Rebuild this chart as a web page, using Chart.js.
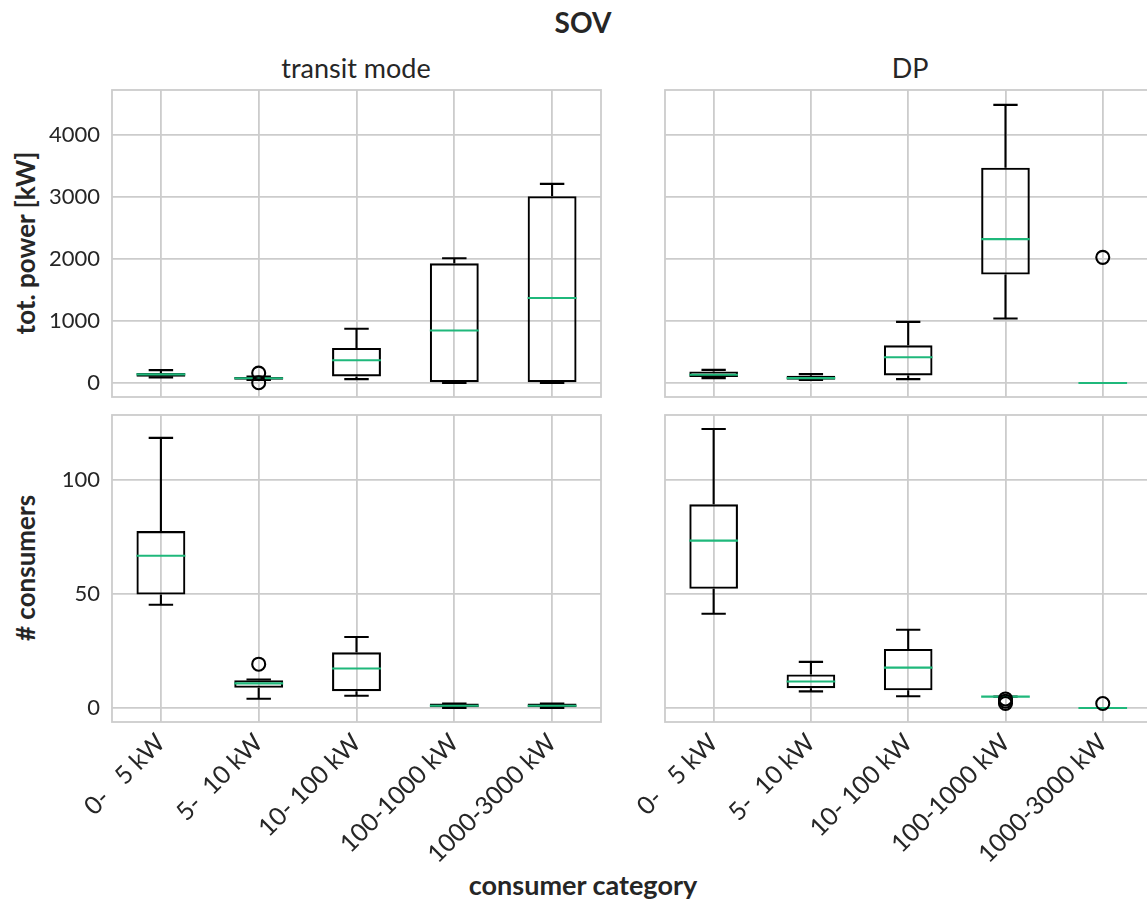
<!DOCTYPE html>
<html>
<head>
<meta charset="utf-8">
<script src="https://cdn.jsdelivr.net/npm/chart.js@4.4.0/dist/chart.umd.min.js"></script>
<style>
  html, body { margin: 0; padding: 0; background: #fff; overflow: hidden; width: 1147px; height: 901px; }
  .panel { position: absolute; }
  .txt { position: absolute; font-family: Lato, "Open Sans", sans-serif; color: #262626; white-space: pre; }
  .bold { font-weight: bold; }
</style>
</head>
<body>
<div class="txt bold" style="left:583px; top:22px; font-size:28px; transform:translate(-50%,-50%);">SOV</div>
<div class="txt" style="left:356px; top:67px; font-size:27px; transform:translate(-50%,-50%);">transit mode</div>
<div class="txt" style="left:910px; top:67px; font-size:27px; transform:translate(-50%,-50%);">DP</div>
<div class="txt bold" style="left:25px; top:243px; font-size:26px; transform:translate(-50%,-50%) rotate(-90deg);">tot. power [kW]</div>
<div class="txt bold" style="left:25px; top:568px; font-size:26px; transform:translate(-50%,-50%) rotate(-90deg);"># consumers</div>
<div class="txt bold" style="left:583px; top:884px; font-size:27px; transform:translate(-50%,-50%);">consumer category</div>

<div class="panel" style="left:0px; top:80px;"><canvas id="tl" width="615" height="330"></canvas></div>
<div class="panel" style="left:615px; top:80px;"><canvas id="tr" width="545" height="330"></canvas></div>
<div class="panel" style="left:0px; top:405px;"><canvas id="bl" width="615" height="496"></canvas></div>
<div class="panel" style="left:615px; top:405px;"><canvas id="br" width="545" height="496"></canvas></div>

<script>
// ---------- DATA ----------
const categories = ['0-   5 kW', '5-  10 kW', '10- 100 kW', '100-1000 kW', '1000-3000 kW'];

const powerTicks = [0, 1000, 2000, 3000, 4000];
const powerRange = [-225, 4725];
const consumerTicks = [0, 50, 100];
const consumerRange = [-6.1, 128.3];

// tot. power [kW], transit mode
const powTransitLo   = [91, 50, 64, 0, 0];
const powTransitQ1   = [101, 55, 107, 0, 0];
const powTransitMed  = [139, 78, 368, 848, 1371];
const powTransitQ3   = [160, 98, 565, 1931, 3013];
const powTransitHi   = [208, 105, 875, 2011, 3211];
const powTransitOut  = [[], [160, 5], [], [], []];

// tot. power [kW], DP
const powDPLo   = [80, 48, 64, 1040, 0];
const powDPQ1   = [96, 53, 123, 1749, 0];
const powDPMed  = [133, 80, 416, 2320, 0];
const powDPQ3   = [187, 117, 608, 3472, 0];
const powDPHi   = [213, 144, 987, 4485, 0];
const powDPOut  = [[], [], [], [], [2027]];

// # consumers, transit mode
const conTransitLo  = [45.2, 4.1, 5.4, 0, 0];
const conTransitQ1  = [49.7, 8.9, 7.4, 0, 0];
const conTransitMed = [66.7, 10.8, 17.3, 1, 1];
const conTransitQ3  = [77.5, 12.2, 24.4, 2, 2];
const conTransitHi  = [118.3, 12.5, 31.1, 2, 2];
const conTransitOut = [[], [19.2], [], [], []];

// # consumers, DP
const conDPLo  = [41.3, 7.3, 5.2, 5, 0];
const conDPQ1  = [52.2, 8.7, 7.8, 5, 0];
const conDPMed = [73.3, 11.6, 17.7, 5, 0];
const conDPQ3  = [89.2, 14.7, 25.9, 5, 0];
const conDPHi  = [122.2, 20.2, 34.3, 5, 0];
const conDPOut = [[], [], [], [4, 3, 2], [2]];

// ---------- STYLE ----------
const FONT = 'Lato, "Open Sans", sans-serif';
const TEXT = '#262626';
const GRID = '#cccccc';
const MEDIAN = '#1fb87b';
const LW = 2.1;
Chart.defaults.font.family = FONT;
Chart.defaults.color = TEXT;

const frame = {
  id: 'frame',
  beforeDatasetsDraw(chart) {
    const a = chart.chartArea, c = chart.ctx;
    c.save();
    c.strokeStyle = GRID; c.lineWidth = 1.8;
    c.strokeRect(a.left, a.top, a.right - a.left, a.bottom - a.top);
    c.restore();
  }
};

const boxParts = {
  id: 'boxParts',
  afterDatasetDraw(chart, args, opts) {
    if (args.index !== 0) return;
    const c = chart.ctx, x = chart.scales.x, y = chart.scales.y;
    const meta = chart.getDatasetMeta(0);
    c.save();
    c.beginPath();
    const a = chart.chartArea;
    c.rect(a.left, a.top, a.right - a.left, a.bottom - a.top);
    c.clip();
    c.lineCap = 'butt';
    opts.med.forEach((m, i) => {
      const cx = x.getPixelForValue(i);
      const hw = meta.data[i].width / 2;
      const yLo = y.getPixelForValue(opts.lo[i]);
      const yQ1 = y.getPixelForValue(opts.q1[i]);
      const yQ3 = y.getPixelForValue(opts.q3[i]);
      const yHi = y.getPixelForValue(opts.hi[i]);
      c.strokeStyle = '#000'; c.lineWidth = LW;
      c.beginPath();
      c.moveTo(cx, yQ1); c.lineTo(cx, yLo);
      c.moveTo(cx, yQ3); c.lineTo(cx, yHi);
      c.moveTo(cx - hw / 2, yLo); c.lineTo(cx + hw / 2, yLo);
      c.moveTo(cx - hw / 2, yHi); c.lineTo(cx + hw / 2, yHi);
      c.stroke();
      const yM = y.getPixelForValue(m);
      c.strokeStyle = MEDIAN; c.lineWidth = LW;
      c.beginPath();
      c.moveTo(cx - hw, yM); c.lineTo(cx + hw, yM);
      c.stroke();
    });
    c.restore();
  }
};

function makeChart(id, s) {
  const outPts = [];
  s.out.forEach((arr, i) => arr.forEach(v => outPts.push({ x: categories[i], y: v })));
  const yAxisW = s.left ? 112 : 50;
  return new Chart(document.getElementById(id), {
    data: {
      labels: categories,
      datasets: [
        {
          type: 'bar',
          data: s.q1.map((v, i) => [v, s.q3[i]]),
          backgroundColor: 'rgba(0,0,0,0)',
          borderColor: '#000',
          borderWidth: LW,
          borderSkipped: false,
          barPercentage: 0.5,
          categoryPercentage: 1.0,
          order: 2
        },
        {
          type: 'line',
          data: outPts,
          showLine: false,
          pointStyle: 'circle',
          pointRadius: 6.5,
          pointBorderWidth: LW,
          pointBorderColor: '#000',
          pointBackgroundColor: 'rgba(0,0,0,0)',
          order: 1
        }
      ]
    },
    options: {
      responsive: false,
      animation: false,
      layout: { padding: { top: 10, right: s.right, left: 0, bottom: 0 } },
      plugins: {
        legend: { display: false },
        tooltip: { enabled: false },
        boxParts: { lo: s.lo, q1: s.q1, q3: s.q3, hi: s.hi, med: s.med }
      },
      scales: {
        x: {
          type: 'category',
          offset: true,
          grid: { offset: false, color: GRID, lineWidth: 1.8, drawTicks: false },
          border: { display: false },
          ticks: {
            display: s.bottom,
            autoSkip: false,
            maxRotation: 45, minRotation: 45,
            padding: 6,
            color: TEXT,
            font: { size: 25 }
          },
          afterFit(sc) { sc.height = s.xH; sc.paddingLeft = 0; sc.paddingRight = 0; }
        },
        y: {
          type: 'linear',
          min: s.range[0], max: s.range[1],
          afterBuildTicks(sc) { sc.ticks = s.ticks.map(v => ({ value: v })); },
          grid: { color: GRID, lineWidth: 1.8, drawTicks: false },
          border: { display: false },
          ticks: {
            display: s.left,
            padding: 12,
            color: TEXT,
            font: { size: 22 },
            callback: v => String(v)
          },
          afterFit(sc) { sc.width = yAxisW; sc.paddingTop = 0; sc.paddingBottom = 0; }
        }
      }
    },
    plugins: [frame, boxParts]
  });
}

makeChart('tl', { lo: powTransitLo, q1: powTransitQ1, med: powTransitMed, q3: powTransitQ3, hi: powTransitHi, out: powTransitOut,
  ticks: powerTicks, range: powerRange, left: true, bottom: false, right: 14, xH: 13 });
makeChart('tr', { lo: powDPLo, q1: powDPQ1, med: powDPMed, q3: powDPQ3, hi: powDPHi, out: powDPOut,
  ticks: powerTicks, range: powerRange, left: false, bottom: false, right: 5, xH: 13 });
makeChart('bl', { lo: conTransitLo, q1: conTransitQ1, med: conTransitMed, q3: conTransitQ3, hi: conTransitHi, out: conTransitOut,
  ticks: consumerTicks, range: consumerRange, left: true, bottom: true, right: 14, xH: 179 });
makeChart('br', { lo: conDPLo, q1: conDPQ1, med: conDPMed, q3: conDPQ3, hi: conDPHi, out: conDPOut,
  ticks: consumerTicks, range: consumerRange, left: false, bottom: true, right: 5, xH: 179 });
</script>
</body>
</html>
